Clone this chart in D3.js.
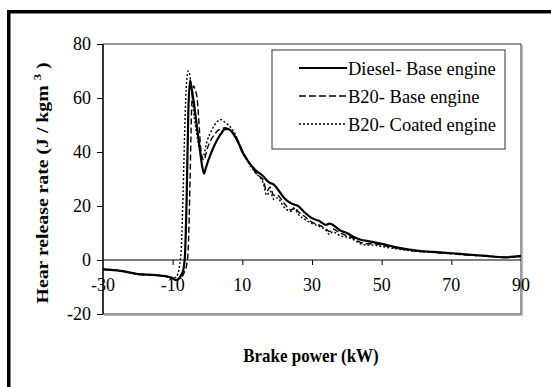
<!DOCTYPE html>
<html><head><meta charset="utf-8">
<script src="https://cdn.jsdelivr.net/npm/d3@7"></script>
<style>html,body{margin:0;padding:0;background:#fff;}svg{display:block;}</style>
</head><body><svg id="c" width="551" height="387"></svg>
<script>
const xVals = [-30,-25,-20,-15,-12,-10,-9,-8.5,-8,-7.5,-7,-6.5,-6,-5.5,-5,-4.5,-4,-3.5,-3,-2.5,-2,-1.5,-1,-0.5,0,1,2,3,4,5,6,7,8,9,10,12,14,16,17,18,19,20,22,24,25,26,28,30,32,34,35,36,38,40,42,44,46,48,50,55,60,65,70,75,80,85,90];
const diesel = [-3.5,-4,-5.2,-5.6,-6,-6.8,-7.5,-7.2,-6.5,-5.5,-4,1,22,55,66.5,63,59,54,49,44,39,34.5,32,34,36,39.5,42.5,45,47,48.5,48.5,47.5,45.5,43,40,36,33,31,29.5,28.5,28,26.5,23,21,20.5,20,17.5,15.5,14.5,13,13.5,13,11,10,8.5,7.5,7,6.5,6,4.5,3.5,3,2.5,2,1.5,1,1.5];
const b20Base = [-3.5,-4,-5.2,-5.6,-6,-6.8,-7.3,-7.2,-6.8,-6.3,-5.5,-4,-2,5,30,58,64.5,63,60,52,42,38,37,39,41.5,44.5,46.5,48,48.5,49,48.5,47.5,46,43.5,40.5,36,32,29.5,25.5,27,24,24,21,18.5,19.5,18,16,14,13,11.5,10.5,11.5,10,9,8,6.5,6,6,5.5,4.2,3.3,2.8,2.3,1.8,1.5,1,1.3];
const b20Coated = [-3.5,-4,-5.2,-5.6,-6,-6.5,-6.5,-5,-2,5,25,50,66,70,68,62,55,50,46,42,39.5,38,39,42,44.5,47.5,50,51.5,52,51,50,48.5,46.5,43.5,40.5,35.5,32,28.5,24,25.5,22.5,23,19.5,18,19,17,15,13.5,12.5,11,9.5,10.5,9,8.5,7.5,6,5.5,5.5,5,4,3.2,2.8,2.5,1.8,1.5,1,1.3];
const seriesNames = ["Diesel- Base engine","B20- Base engine","B20- Coated engine"];
const xTicks = [-30,-10,10,30,50,70,90];
const yTicks = [-20,0,20,40,60,80];

const svg = d3.select("#c");
const FONT = "'Liberation Serif','Times New Roman',serif";
const L = 103, R = 521, T = 44, B = 314;
const x = d3.scaleLinear().domain([-30,90]).range([L,R]);
const y = d3.scaleLinear().domain([-20,80]).range([B,T]);

function txt(px, py, str, anchor, fs, sy, bold, rot) {
  const g = svg.append("g").attr("transform", `translate(${px},${py}) scale(1,${sy})` + (rot ? ` rotate(${rot})` : ""));
  const t = g.append("text").attr("x",0).attr("y",0).attr("text-anchor",anchor||"start")
    .attr("font-family",FONT).attr("font-size",fs).attr("font-weight",bold?"bold":"normal").attr("fill","#000");
  if (typeof str === "string") t.text(str);
  return t;
}

// outer frame (left & top)
svg.append("line").attr("x1",8.75).attr("x2",8.75).attr("y1",10).attr("y2",387).attr("stroke","#000").attr("stroke-width",3.5);
svg.append("line").attr("x1",7).attr("x2",551).attr("y1",11.75).attr("y2",11.75).attr("stroke","#000").attr("stroke-width",3.5);

// plot frame
svg.append("rect").attr("x",L).attr("y",T).attr("width",R-L).attr("height",B-T).attr("fill","none").attr("stroke","#333").attr("stroke-width",1);
svg.append("line").attr("x1",R+1.5).attr("x2",R+1.5).attr("y1",T+1).attr("y2",B+1.5).attr("stroke","#bbb").attr("stroke-width",1.2);
svg.append("line").attr("x1",L+1).attr("x2",R+2).attr("y1",B+1.5).attr("y2",B+1.5).attr("stroke","#bbb").attr("stroke-width",1.2);
svg.append("line").attr("x1",L).attr("x2",L).attr("y1",T).attr("y2",B).attr("stroke","#000").attr("stroke-width",1.3);

// y axis ticks & labels
const yAxis = d3.axisLeft(y).tickValues(yTicks).tickSize(6).tickFormat("");
const yg = svg.append("g").attr("transform",`translate(${L},0)`).call(yAxis);
yg.select(".domain").remove();
yg.selectAll("line").attr("stroke","#000");
yTicks.forEach(v => txt(91, y(v)+6, String(v), "end", 18, 1.1));

// zero line with x ticks
svg.append("line").attr("x1",L).attr("x2",R).attr("y1",y(0)).attr("y2",y(0)).attr("stroke","#000").attr("stroke-width",1);
const xAxis = d3.axisBottom(x).tickValues(xTicks.filter(v=>v>-30&&v<90)).tickSize(5).tickFormat("");
const xg = svg.append("g").attr("transform",`translate(0,${y(0)})`).call(xAxis);
xg.select(".domain").remove();
xg.selectAll("line").attr("stroke","#000");
xTicks.forEach(v => txt(x(v), 291, String(v), "middle", 18, 1.1));

// curves
const pts = arr => xVals.map((xv,i)=>[xv,arr[i]]);
const line = d3.line().x(d=>x(d[0])).y(d=>y(d[1])).curve(d3.curveMonotoneX);
const styles = [
  {data: diesel, w: 2.2, dash: null},
  {data: b20Base, w: 1.4, dash: "6,3"},
  {data: b20Coated, w: 1.4, dash: "2,2"}
];
[2,1,0].forEach(i => {
  const s = styles[i];
  svg.append("path").attr("d", line(pts(s.data))).attr("fill","none").attr("stroke","#000")
    .attr("stroke-width", s.w).attr("stroke-dasharray", s.dash).attr("stroke-linejoin","round");
});

// legend
svg.append("rect").attr("x",272).attr("y",50).attr("width",233).attr("height",99).attr("fill","#fff").attr("stroke","#333").attr("stroke-width",1);
const rows = [68,96,124];
const lw = [2,1.6,1.4], ld = [null,"7,3","2,2"];
seriesNames.forEach((n,i)=>{
  svg.append("line").attr("x1",299).attr("x2",347).attr("y1",rows[i]).attr("y2",rows[i]).attr("stroke","#000").attr("stroke-width",lw[i]).attr("stroke-dasharray",ld[i]);
  txt(348, rows[i]+6.5, n, "start", 18.5, 1.06);
});

// axis titles
txt(311, 362, "Brake power (kW)", "middle", 17, 1.15, true);
const yt = txt(48, 183, null, "middle", 17.2, 1.15, true, -90);
yt.append("tspan").text("Hear release rate (J / kgm ");
yt.append("tspan").attr("font-size",11).attr("dy",-7).text("3");
yt.append("tspan").attr("dy",7).text(" )");
</script></body></html>
